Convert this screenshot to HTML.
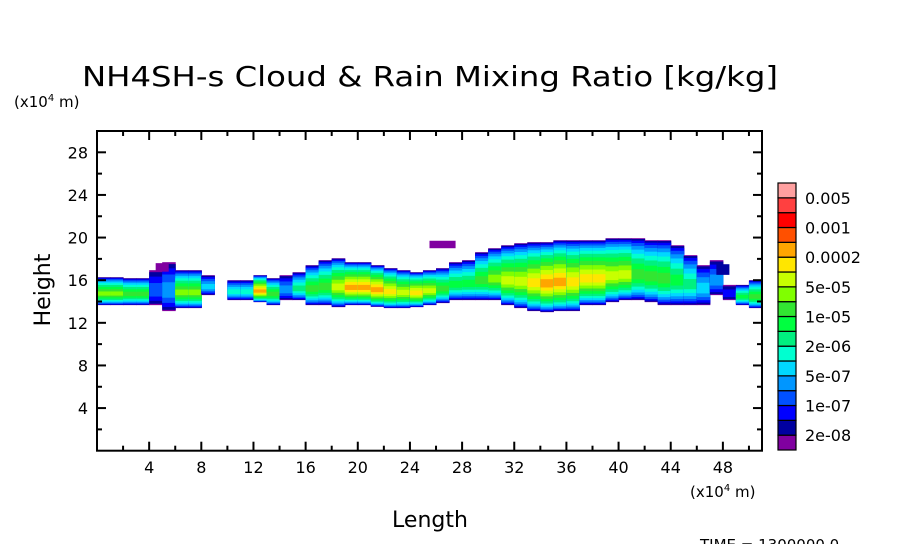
<!DOCTYPE html>
<html><head><meta charset="utf-8"><style>
body{margin:0;background:#fff;}
svg text{font-family:"DejaVu Sans","Liberation Sans",sans-serif;fill:#000;}
</style></head><body>
<svg id="chart" width="904" height="544" viewBox="0 0 904 544" xmlns="http://www.w3.org/2000/svg">
<text x="82" y="86" font-size="28" textLength="696" lengthAdjust="spacingAndGlyphs">NH4SH-s Cloud &amp; Rain Mixing Ratio [kg/kg]</text>
<text x="14" y="107" font-size="15">(x10<tspan font-size="10" dy="-6">4</tspan><tspan dy="6"> m)</tspan></text>
<text x="690" y="497" font-size="15">(x10<tspan font-size="10" dy="-6">4</tspan><tspan dy="6"> m)</tspan></text>
<text x="430" y="527" font-size="22" text-anchor="middle">Length</text>
<text transform="translate(50,290) rotate(-90)" font-size="22" text-anchor="middle">Height</text>
<text x="700" y="550" font-size="15">TIME = 1300000.0</text>
<g id="field"></g>
<g id="axes"></g>
<g id="legend"></g>
</svg>
<script>
const colors=["#8000a0","#0000a0","#0000ff","#0050ff","#0096ff","#00d8ff","#00ffd0","#00f080","#00ff40","#32e632","#80ff00","#c8ff00","#ffe600","#ffa500","#ff5000","#ff0000","#ff4040","#ffa0a0"];
const legendLabels=["2e-08","1e-07","5e-07","2e-06","1e-05","5e-05","0.0002","0.001","0.005"];
const xTicks=[4,8,12,16,20,24,28,32,36,40,44,48];
const yTicks=[4,8,12,16,20,24,28];
// per 1-unit column (x = index): cloud base, cloud top (x10^4 m), peak level index
const colBase=[13.66,13.66,13.66,13.66,13.66,13.1,13.38,13.38,14.6,null,14.13,14.13,13.94,13.66,14.13,14.13,13.66,13.66,13.47,13.66,13.66,13.5,13.38,13.38,13.47,13.66,13.85,14.13,14.13,14.13,14.13,13.66,13.38,13.1,13.0,13.1,13.1,13.66,13.66,13.94,14.13,14.13,13.94,13.66,13.66,13.66,13.66,14.6,14.13,13.66,13.38];
const colTop=[16.28,16.28,16.19,16.19,16.94,17.69,16.94,16.94,16.47,null,16.0,16.0,16.47,16.19,16.47,16.75,17.41,17.88,18.06,17.69,17.69,17.41,17.13,16.94,16.75,16.94,17.13,17.69,17.88,18.63,19.0,19.28,19.47,19.57,19.57,19.75,19.75,19.75,19.75,19.94,19.94,19.94,19.75,19.75,19.28,18.35,17.41,17.88,15.56,15.56,16.0];
const colPeak=[10,10,9,9,3,4,10,10,5,-1,6,6,13,9,4,7,9,9,11,13,13,13,12,11,12,11,9,8,8,9,10,11,11,12,13,13,12,12,12,11,11,9,9,9,8,7,5,4,2,8,9];
// isolated patches: x0, x1, h0, h1, level
const patchX0=[25.5,4.5,47.5];
const patchX1=[27.5,5.5,48.5];
const patchH0=[19.0,16.8,16.5];
const patchH1=[19.7,17.6,17.5];
const patchLvl=[0,0,1];

const X0=97,X1=762,Y0=450.7,Y1=131,XMAX=51,YMAX=30;
const sx=v=>X0+(X1-X0)*v/XMAX;
const sy=v=>Y0-(Y0-Y1)*v/YMAX;
const NS="http://www.w3.org/2000/svg";
function mk(tag,attrs,parent){const e=document.createElementNS(NS,tag);for(const k in attrs)e.setAttribute(k,attrs[k]);parent.appendChild(e);return e;}
const field=document.getElementById('field');
colBase.forEach((b,i)=>{
  const t=colTop[i],p=colPeak[i];
  if(b===null||p<0)return;
  const half=(t-b)/2;
  for(let L=0;L<=p;L++){
    const f=Math.pow(L/(p+1),1.7);
    const lo=b+half*f*0.8,hi=t-half*f*1.2;
    if(hi<=lo)break;
    const r=mk('rect',{x:sx(i),y:sy(hi),width:sx(i+1)-sx(i)+0.5,height:sy(lo)-sy(hi),fill:colors[L]},field);
    
    
  }
});
patchX0.forEach((x0,i)=>{
  const r=mk('rect',{x:sx(x0),y:sy(patchH1[i]),width:sx(patchX1[i])-sx(x0),height:sy(patchH0[i])-sy(patchH1[i]),fill:colors[patchLvl[i]]},field);
  
  
});
const ax=document.getElementById('axes');
const frame=mk('rect',{x:X0,y:Y1,width:X1-X0,height:Y0-Y1,fill:'none',stroke:'#000','stroke-width':2},ax);


for(let v=2;v<XMAX;v+=2){
  const maj=v%4===0,len=maj?9:5,x=sx(v);
  mk('line',{x1:x,x2:x,y1:Y0,y2:Y0-len,stroke:'#000','stroke-width':2},ax);
  mk('line',{x1:x,x2:x,y1:Y1,y2:Y1+len,stroke:'#000','stroke-width':2},ax);
}
for(let v=2;v<YMAX;v+=2){
  const maj=v%4===0,len=maj?9:5,y=sy(v);
  mk('line',{x1:X0,x2:X0+len,y1:y,y2:y,stroke:'#000','stroke-width':2},ax);
  mk('line',{x1:X1,x2:X1-len,y1:y,y2:y,stroke:'#000','stroke-width':2},ax);
}
xTicks.forEach(v=>{const t=mk('text',{x:sx(v),y:473,'font-size':16,'text-anchor':'middle'},ax);t.textContent=v;

});
yTicks.forEach(v=>{const t=mk('text',{x:88,y:sy(v)+6,'font-size':16,'text-anchor':'end'},ax);t.textContent=v;

});
const lg=document.getElementById('legend');
const LB=450,LT=183,bh=(LB-LT)/colors.length;
colors.forEach((c,i)=>{
  const r=mk('rect',{x:778,y:LB-(i+1)*bh,width:18,height:bh,fill:c,stroke:'#000','stroke-width':1.2},lg);
  
  
});
legendLabels.forEach((s,j)=>{
  const y=LB-(2*j+1)*bh;
  const t=mk('text',{x:805,y:y+6,'font-size':16},lg);t.textContent=s;
  
  
});
</script>
</body></html>
